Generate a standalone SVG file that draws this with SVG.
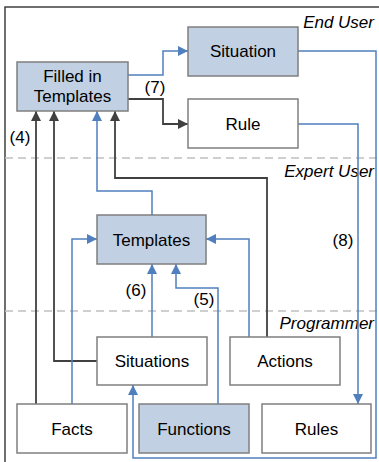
<svg xmlns="http://www.w3.org/2000/svg" width="379" height="462" viewBox="0 0 379 462">
<style>
.box{stroke:#7f7f7f;stroke-width:1.5;fill:#ffffff}
.blue{fill:#c1d0e3}
.t{font-family:"Liberation Sans",Arial,sans-serif;font-size:17px;fill:#000;text-anchor:middle}
.lane{font-family:"Liberation Sans",Arial,sans-serif;font-size:17px;font-style:italic;fill:#000;text-anchor:end}
.lb{font-family:"Liberation Sans",Arial,sans-serif;font-size:17px;fill:#000;text-anchor:middle}
.cb{fill:none;stroke:#4f7fbd;stroke-width:1.5}
.ck{fill:none;stroke:#404040;stroke-width:1.8}
.dash{stroke:#c0c0c0;stroke-width:1.5;stroke-dasharray:8 5;fill:none}
</style>
<defs>
<marker id="ab" markerUnits="userSpaceOnUse" markerWidth="11" markerHeight="11" refX="10" refY="5" orient="auto"><path d="M0,0 L10,5 L0,10 z" fill="#4f7fbd"/></marker>
<marker id="ak" markerUnits="userSpaceOnUse" markerWidth="11" markerHeight="11" refX="10" refY="5" orient="auto"><path d="M0,0 L10,5 L0,10 z" fill="#404040"/></marker>
</defs>
<rect width="379" height="462" fill="#ffffff"/>
<g id="frame">
<path d="M5,462 L5,7 L379,7" fill="none" stroke="#404040" stroke-width="1.5"/>
<line class="dash" x1="5" y1="158" x2="379" y2="158"/>
<line class="dash" x1="5" y1="311" x2="379" y2="311"/>
<text class="lane" x="374" y="28">End User</text>
<text class="lane" x="374" y="177">Expert User</text>
<text class="lane" x="374" y="329">Programmer</text>
</g>
<g id="connectors">
<path class="ck" d="M36,404 L36,111" marker-end="url(#ak)"/>
<path class="ck" d="M97,361 L54,361 L54,111" marker-end="url(#ak)"/>
<path class="cb" d="M72,404 L72,239 L97,239" marker-end="url(#ab)"/>
<path class="cb" d="M152,215 L152,191 L97,191 L97,111" marker-end="url(#ab)"/>
<path class="ck" d="M267,337 L267,178 L115,178 L115,111" marker-end="url(#ak)"/>
<path class="cb" d="M128,75 L163,75 L163,51 L188,51" marker-end="url(#ab)"/>
<path class="ck" d="M128,99 L163,99 L163,124 L188,124" marker-end="url(#ak)"/>
<path class="cb" d="M298,51 L376,51 L376,458 L133,458 L133,385" marker-end="url(#ab)"/>
<path class="cb" d="M298,124 L358,124 L358,404" marker-end="url(#ab)"/>
<path class="cb" d="M218,404 L218,288 L176,288 L176,264" marker-end="url(#ab)"/>
<path class="cb" d="M152,337 L152,264" marker-end="url(#ab)"/>
<path class="cb" d="M249,337 L249,239 L206,239" marker-end="url(#ab)"/>
<text class="lb" x="20" y="143">(4)</text>
<text class="lb" x="155" y="93">(7)</text>
<text class="lb" x="343" y="246">(8)</text>
<text class="lb" x="136" y="296">(6)</text>
<text class="lb" x="204" y="305">(5)</text>
</g>
<g id="filled-in-templates"><rect class="box blue" x="17" y="62" width="111" height="49"/><text class="t" x="72.5" y="82">Filled in</text><text class="t" x="72.5" y="102">Templates</text></g>
<g id="situation"><rect class="box blue" x="188" y="27" width="110" height="49"/><text class="t" x="243" y="57">Situation</text></g>
<g id="rule"><rect class="box" x="188" y="99" width="110" height="49"/><text class="t" x="243" y="129.5">Rule</text></g>
<g id="templates"><rect class="box blue" x="97" y="215" width="109" height="49"/><text class="t" x="151.5" y="245.5">Templates</text></g>
<g id="situations"><rect class="box" x="97" y="337" width="110" height="48"/><text class="t" x="152" y="367">Situations</text></g>
<g id="actions"><rect class="box" x="230" y="337" width="110" height="48"/><text class="t" x="285" y="367">Actions</text></g>
<g id="facts"><rect class="box" x="17" y="404" width="110" height="49"/><text class="t" x="72" y="434.5">Facts</text></g>
<g id="functions"><rect class="box blue" x="139" y="404" width="110" height="49"/><text class="t" x="194" y="434.5">Functions</text></g>
<g id="rules"><rect class="box" x="262" y="404" width="109" height="49"/><text class="t" x="316.5" y="434.5">Rules</text></g>
</svg>
